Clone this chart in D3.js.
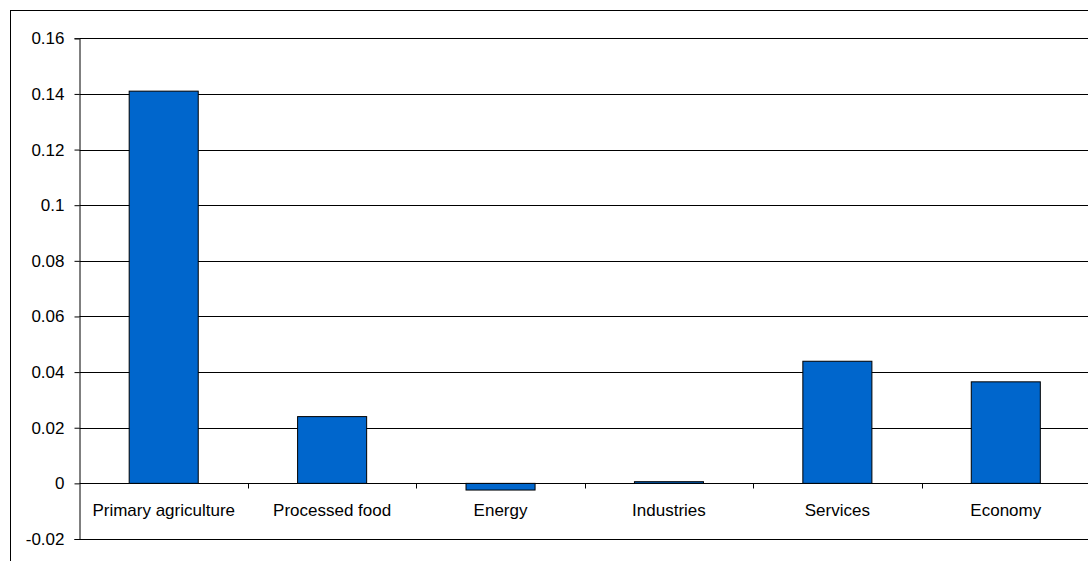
<!DOCTYPE html>
<html>
<head>
<meta charset="utf-8">
<script src="https://cdn.jsdelivr.net/npm/d3@7"></script>
<style>
  html, body { margin: 0; padding: 0; background: #fff; }
  svg { display: block; }
  text { font-family: "Liberation Sans", Arial, sans-serif; font-size: 17px; fill: #000; }
</style>
</head>
<body>
<svg id="chart" width="1088" height="561"></svg>
<script>
// Sector results
const categories = ["Primary agriculture", "Processed food", "Energy", "Industries", "Services", "Economy"];
const values = [0.141, 0.024, -0.0024, 0.0006, 0.0439, 0.0365];
const yTicks = [-0.02, 0, 0.02, 0.04, 0.06, 0.08, 0.1, 0.12, 0.14, 0.16];

const svg = d3.select("#chart");

// Outer chart frame
svg.append("rect")
  .attr("x", 10.5).attr("y", 10.5)
  .attr("width", 1100).attr("height", 600)
  .attr("fill", "#fff").attr("stroke", "#000").attr("stroke-width", 1);

const plot = { left: 79.5, right: 1090, top: 38.3, bottom: 539 };

const x = d3.scaleBand()
  .domain(categories)
  .range([plot.left, plot.right])
  .paddingInner(0.59)
  .paddingOuter(0.295);

const y = d3.scaleLinear()
  .domain([-0.02, 0.16])
  .range([plot.bottom, plot.top]);

// Horizontal gridlines
svg.append("g")
  .selectAll("line")
  .data(yTicks)
  .join("line")
  .attr("x1", plot.left).attr("x2", plot.right)
  .attr("y1", d => Math.round(y(d)) + 0.5)
  .attr("y2", d => Math.round(y(d)) + 0.5)
  .attr("stroke", "#000").attr("stroke-width", 1);

// Bars
svg.append("g")
  .selectAll("rect")
  .data(values)
  .join("rect")
  .attr("x", (d, i) => x(categories[i]))
  .attr("width", x.bandwidth())
  .attr("y", d => y(Math.max(d, 0)))
  .attr("height", d => Math.max(1, Math.abs(y(d) - y(0))))
  .attr("fill", "#0066CC")
  .attr("stroke", "#000").attr("stroke-width", 1);

// Value axis (plain hyphen for negatives)
const yAxis = d3.axisLeft(y)
  .tickValues(yTicks)
  .tickSize(5)
  .tickPadding(10)
  .tickFormat(d => String(+d.toFixed(2)));

svg.append("g")
  .attr("transform", `translate(${plot.left},0)`)
  .call(yAxis)
  .call(g => g.select(".domain").attr("stroke", "#000"))
  .call(g => g.selectAll(".tick line").attr("stroke", "#000"))
  .call(g => g.selectAll(".tick text").attr("font-family", null).attr("font-size", null));

// Category axis along zero, with tick marks between categories
const zeroY = Math.round(y(0)) + 0.5;
const step = x.step();
const boundaries = d3.range(1, categories.length).map(i => plot.left + step * i);
svg.append("g")
  .selectAll("line")
  .data(boundaries)
  .join("line")
  .attr("x1", d => Math.round(d) + 0.5).attr("x2", d => Math.round(d) + 0.5)
  .attr("y1", zeroY).attr("y2", zeroY + 5)
  .attr("stroke", "#000");

svg.append("g")
  .selectAll("text")
  .data(categories)
  .join("text")
  .attr("x", d => x(d) + x.bandwidth() / 2)
  .attr("y", 516)
  .attr("text-anchor", "middle")
  .text(d => d);
</script>
</body>
</html>
